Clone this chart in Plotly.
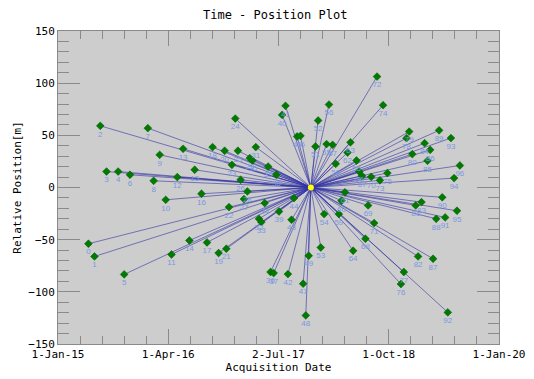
import plotly.graph_objects as go
import pandas as pd

# ---------------- data ----------------
labels = [str(i) for i in range(97)]
dates = [
    "2015-05-07", "2015-06-01", "2015-06-25", "2015-07-21", "2015-09-07", "2015-10-02", "2015-10-26",
    "2016-01-08", "2016-02-01", "2016-02-26", "2016-03-22", "2016-04-15", "2016-05-09", "2016-06-02",
    "2016-06-28", "2016-07-20", "2016-08-17", "2016-09-09", "2016-10-02", "2016-10-27", "2016-11-21",
    "2016-11-28", "2016-12-09", "2016-12-21", "2017-01-04", "2017-01-15", "2017-01-26", "2017-02-09",
    "2017-02-23", "2017-03-05", "2017-03-16", "2017-03-30", "2017-04-12", "2017-04-22", "2017-05-06",
    "2017-05-20", "2017-05-30", "2017-06-12", "2017-06-23", "2017-07-04", "2017-07-17", "2017-07-31",
    "2017-08-10", "2017-08-25", "2017-09-04", "2017-09-17", "2017-10-01", "2017-10-12", "2017-10-23",
    "2017-11-04", "2017-11-13", "2017-12-02", "2017-12-13", "2017-12-24", "2018-01-07", "2018-01-17",
    "2018-01-27", "2018-02-11", "2018-02-24", "2018-03-09", "2018-03-20", "2018-04-03", "2018-04-14",
    "2018-04-26", "2018-05-07", "2018-05-21", "2018-06-01", "2018-06-13", "2018-06-27", "2018-07-08",
    "2018-07-21", "2018-08-02", "2018-08-14", "2018-08-26", "2018-09-08", "2018-09-26", "2018-11-21",
    "2018-12-03", "2018-12-14", "2018-12-25", "2019-01-07", "2019-01-21", "2019-01-31", "2019-02-14",
    "2019-02-27", "2019-03-11", "2019-03-22", "2019-04-03", "2019-04-16", "2019-04-28", "2019-05-11",
    "2019-05-23", "2019-06-03", "2019-06-16", "2019-06-29", "2019-07-11", "2019-07-23",
]
positions = [
    -53.9, -66.1, 59.1, 15.3, 15.3, -83.3, 12.2, 56.9, 6.4, 31.3,
    -11.8, -64.2, 10.0, 37.1, -50.8, 17.0, -6.0, -52.7, 38.7, -62.8,
    35.2, -58.7, -18.8, 21.7, 66.1, 35.2, 7.4, -11.1, -3.8, 28.2,
    25.9, 38.7, -30.0, -33.1, -14.9, 20.1, -81.0, -82.0, 12.2, -23.0,
    69.6, 78.3, -83.0, -30.9, -10.2, 48.9, 49.5, -92.2, -122.6, -65.4,
    0.0, 39.3, 64.2, -57.5, -25.5, 41.6, 79.5, 40.9, 22.7, -25.5,
    -12.7, -4.6, 33.5, 43.3, -60.6, 25.9, 15.3, 11.2, -49.1, -17.2,
    10.2, -34.1, 106.3, 6.9, 78.9, 13.8, -92.5, -81.0, 47.3, 53.6,
    32.0, -17.2, -66.1, -14.0, 42.5, 25.6, 36.1, -68.3, -30.0, 54.8,
    -9.4, -28.7, -119.7, 47.4, 9.0, -22.3, 21.1,
]
master_index = 50

x_tick_vals = ["2015-01-01", "2016-04-01 12:00", "2017-07-02", "2018-10-01 12:00", "2020-01-01"]
x_tick_text = ["1-Jan-15", "1-Apr-16", "2-Jul-17", "1-Oct-18", "1-Jan-20"]
y_tick_vals = [-150, -100, -50, 0, 50, 100, 150]

# ---------------- build ----------------
md, mp = dates[master_index], positions[master_index]
lx, ly = [], []
for d, p in zip(dates, positions):
    lx += [md, d, None]
    ly += [mp, p, None]

sx = [d for i, d in enumerate(dates) if i != master_index]
sy = [p for i, p in enumerate(positions) if i != master_index]
st = [t for i, t in enumerate(labels) if i != master_index]

FONT = "DejaVu Sans Mono"
fig = go.Figure()
fig.add_trace(go.Scatter(x=lx, y=ly, mode="lines",
                         line=dict(color="rgba(50,50,165,0.6)", width=1),
                         hoverinfo="skip", showlegend=False))
fig.add_trace(go.Scatter(x=sx, y=sy, mode="markers+text", text=st,
                         textposition="bottom center",
                         textfont=dict(family="Arial", size=8, color="#7b98e0"),
                         marker=dict(symbol="diamond", size=6, color="#007a00",
                                     line=dict(color="#005a00", width=0.5)),
                         showlegend=False))
fig.add_trace(go.Scatter(x=[md], y=[mp], mode="markers",
                         marker=dict(symbol="circle", size=6, color="#ffff00"),
                         showlegend=False))

minor_x = pd.date_range("2015-01-01", "2020-01-01", periods=21)
axcol = "#8a8a8a"
# page body has an 8px default margin, so the figure is drawn 8px in from the corner
fig.update_layout(
    width=526, height=371,
    margin=dict(l=50, r=35, t=23, b=35, autoexpand=False),
    paper_bgcolor="white", plot_bgcolor="#cdcdcd",
    font=dict(family=FONT, size=11, color="black"),
    title=dict(text="Time - Position Plot", x=0.508, xanchor="center",
               y=1 - 7 / 371, yanchor="middle", yref="container", automargin=False,
               font=dict(family=FONT, size=12, color="black")),
    xaxis=dict(type="date", range=["2015-01-01", "2020-01-01"], automargin=False,
               tickmode="array", tickvals=x_tick_vals, ticktext=x_tick_text,
               ticks="inside", ticklen=15, tickcolor=axcol, tickwidth=1,
               showline=True, linecolor=axcol, mirror="ticks",
               showgrid=False, zeroline=False,
               tickfont=dict(family=FONT, size=11),
               title=dict(text="Acquisition Date", standoff=0,
                          font=dict(family=FONT, size=11)),
               minor=dict(tickmode="array", tickvals=list(minor_x), ticks="inside",
                          ticklen=8, tickcolor=axcol, showgrid=False)),
    yaxis=dict(range=[-150, 150], tickmode="array", tickvals=y_tick_vals, automargin=False,
               ticks="inside", ticklen=22, tickcolor=axcol, tickwidth=1,
               showline=True, linecolor=axcol, mirror="ticks",
               showgrid=False, zeroline=False,
               tickfont=dict(family=FONT, size=11),
               title=dict(text="Relative Position[m]", standoff=4,
                          font=dict(family=FONT, size=11)),
               minor=dict(dtick=10, ticks="inside", ticklen=11,
                          tickcolor=axcol, showgrid=False)),
)

fig.write_html("out.html")
